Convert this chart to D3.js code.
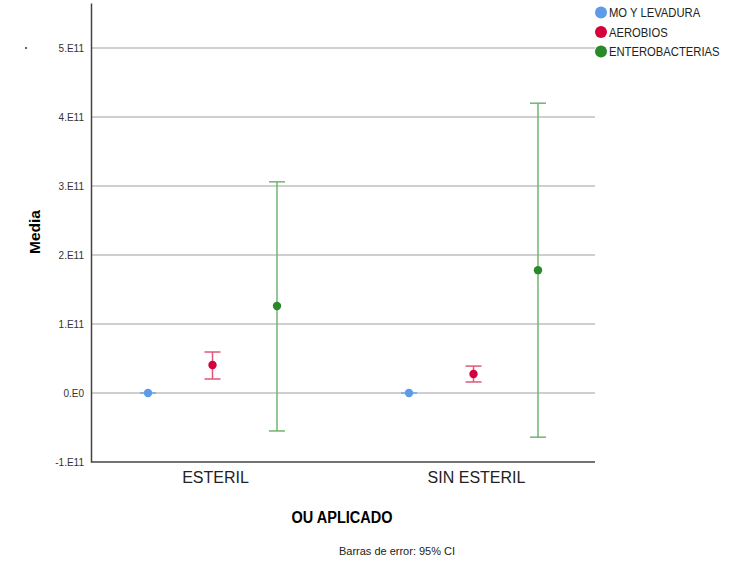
<!DOCTYPE html>
<html>
<head>
<meta charset="utf-8">
<script src="https://cdn.jsdelivr.net/npm/d3@7"></script>
<style>
  body { margin: 0; background: #fff; }
  text { font-family: "Liberation Sans", Arial, sans-serif; }
</style>
</head>
<body>
<div id="chart"></div>
<script>
// data (values in units of 1E11)
var groups = ["ESTERIL", "SIN ESTERIL"];
var series = ["MO Y LEVADURA", "AEROBIOS", "ENTEROBACTERIAS"];
var colors = ["#5b9be8", "#d6003a", "#2a8a2a"];
var barColors = ["#7fb2ee", "#e0577a", "#6fb46f"];
var means = [[0, 0.406, 1.26], [0, 0.275, 1.78]];
var lows = [[-0.004, 0.203, -0.55], [-0.004, 0.16, -0.64]];
var highs = [[0.004, 0.594, 3.06], [0.004, 0.39, 4.20]];
var yTicks = [-1, 0, 1, 2, 3, 4, 5];
var yTickLabels = ["-1.E11", "0.E0", "1.E11", "2.E11", "3.E11", "4.E11", "5.E11"];

var W = 743, H = 561;
var margin = { top: 3, right: 148, bottom: 99, left: 91 },
  width = W - margin.left - margin.right,
  height = H - margin.top - margin.bottom;

var svg = d3.select("#chart")
  .append("svg")
  .attr("width", W)
  .attr("height", H);

var g = svg.append("g")
  .attr("transform", "translate(" + margin.left + "," + margin.top + ")");

// scales
var y = d3.scaleLinear().domain([-1, 5.652]).range([height, 0]);
var x0 = d3.scalePoint().domain(groups).range([122, 383]);
var x1 = d3.scalePoint().domain(series).range([-65, 64]);

function cx(gi, si) {
  return x0(groups[gi]) + x1(series[si]);
}

// gridlines
g.selectAll(".grid")
  .data(yTicks.filter(function (d) { return d > -1; }))
  .enter().append("line")
  .attr("x1", 0).attr("x2", width)
  .attr("y1", function (d) { return y(d); })
  .attr("y2", function (d) { return y(d); })
  .style("stroke", "#cfcfcf")
  .style("stroke-width", 2);

// y axis
var yAxis = g.append("g")
  .call(d3.axisLeft(y).tickValues(yTicks).tickSize(0).tickPadding(7)
    .tickFormat(function (d, i) { return yTickLabels[i]; }));
yAxis.select(".domain").style("stroke", "#444").style("stroke-width", 1.5);
yAxis.selectAll("text").style("font-size", "10px").style("fill", "#333")
  .style("font-family", "'Liberation Sans', Arial, sans-serif");

// x axis
var xAxis = g.append("g")
  .attr("transform", "translate(0," + height + ")")
  .call(d3.axisBottom(x0).tickSize(0).tickPadding(10));
xAxis.select(".domain").attr("d", "M0,0H" + width).style("stroke", "#444").style("stroke-width", 1.5);
xAxis.selectAll("text").style("font-size", "16px").style("fill", "#222")
  .style("font-family", "'Liberation Sans', Arial, sans-serif")
  .attr("dx", 2);

// error bars + points
var pts = [];
groups.forEach(function (grp, gi) {
  series.forEach(function (s, si) {
    pts.push({ gi: gi, si: si, m: means[gi][si], lo: lows[gi][si], hi: highs[gi][si] });
  });
});

var eb = g.selectAll(".eb").data(pts).enter().append("g");
eb.append("line")
  .attr("x1", function (d) { return cx(d.gi, d.si); })
  .attr("x2", function (d) { return cx(d.gi, d.si); })
  .attr("y1", function (d) { return y(d.lo); })
  .attr("y2", function (d) { return y(d.hi); })
  .style("stroke", function (d) { return barColors[d.si]; })
  .style("stroke-width", 1.5);
["lo", "hi"].forEach(function (k) {
  eb.append("line")
    .attr("x1", function (d) { return cx(d.gi, d.si) - 8; })
    .attr("x2", function (d) { return cx(d.gi, d.si) + 8; })
    .attr("y1", function (d) { return y(d[k]); })
    .attr("y2", function (d) { return y(d[k]); })
    .style("stroke", function (d) { return barColors[d.si]; })
    .style("stroke-width", 1.5);
});
eb.append("circle")
  .attr("cx", function (d) { return cx(d.gi, d.si); })
  .attr("cy", function (d) { return y(d.m); })
  .attr("r", 4.2)
  .style("fill", function (d) { return colors[d.si]; });

// axis titles
svg.append("text")
  .attr("transform", "translate(40,232) rotate(-90)")
  .attr("text-anchor", "middle")
  .style("font-size", "15.5px")
  .style("font-weight", "bold")
  .text("Media");

svg.append("text")
  .attr("x", 342).attr("y", 523)
  .attr("text-anchor", "middle")
  .style("font-size", "16px")
  .style("font-weight", "bold")
  .attr("textLength", 101)
  .attr("lengthAdjust", "spacingAndGlyphs")
  .text("OU APLICADO");

svg.append("text")
  .attr("x", 397).attr("y", 555)
  .attr("text-anchor", "middle")
  .style("font-size", "11px")
  .style("fill", "#222")
  .text("Barras de error: 95% CI");

// little stray dot left of the axis
svg.append("circle").attr("cx", 26).attr("cy", 48).attr("r", 1).style("fill", "#333");

// legend
var leg = svg.selectAll(".leg").data(series).enter().append("g")
  .attr("transform", function (d, i) { return "translate(601," + (12.5 + i * 19.5) + ")"; });
leg.append("circle").attr("r", 6).style("fill", function (d, i) { return colors[i]; });
leg.append("text")
  .attr("x", 8).attr("y", 4.5)
  .attr("transform", "scale(0.9,1)")
  .attr("x", 8 / 0.9)
  .style("font-size", "12.5px")
  .style("fill", "#222")
  .text(function (d) { return d; });
</script>
</body>
</html>
